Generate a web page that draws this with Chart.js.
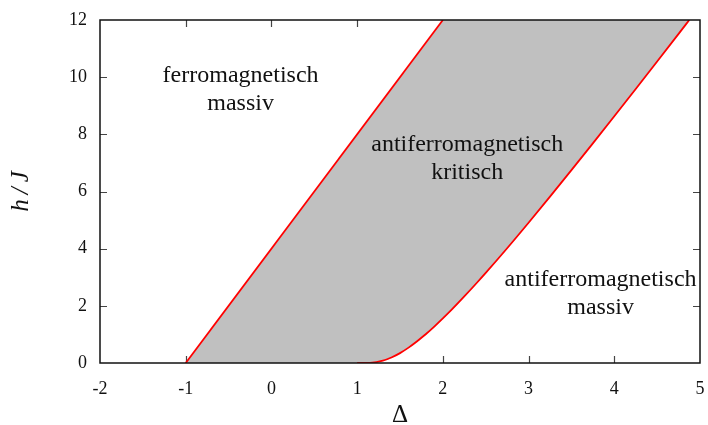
<!DOCTYPE html>
<html>
<head>
<meta charset="utf-8">
<script src="https://cdn.jsdelivr.net/npm/chart.js@4.4.1/dist/chart.umd.min.js"></script>
<style>
  html, body { margin: 0; padding: 0; background: #ffffff; }
  #phase { display: block; }
</style>
</head>
<body>
<canvas id="phase" width="708" height="425"></canvas>
<script>
// Phase boundaries of the XXZ chain in a field (h/J versus anisotropy Δ)

// saturation line: fully polarized above it
const deltaUpper = [-1, 2];
const hUpper = [0, 12];

// lower critical field of the gapped Néel phase (Δ > 1)
const deltaLower = [1.0, 1.1, 1.15, 1.2, 1.25, 1.3, 1.35, 1.4, 1.5, 1.6, 1.7, 1.75, 1.8, 1.9, 2.0,
                    2.1, 2.25, 2.4, 2.5, 2.75, 3.0, 3.25, 3.5, 3.75, 4.0, 4.25, 4.5, 4.75, 4.875];
const hLower = [0, 0.001, 0.006, 0.019, 0.044, 0.081, 0.131, 0.192, 0.346, 0.538, 0.760, 0.881, 1.007, 1.275, 1.559,
                1.856, 2.328, 2.816, 3.151, 4.015, 4.907, 5.819, 6.746, 7.685, 8.633, 9.588, 10.549, 11.514, 12.0];

// axis ticks
const xTickValues = [-2, -1, 0, 1, 2, 3, 4, 5];
const xTickLabels = ['-2', '-1', '0', '1', '2', '3', '4', '5'];
const yTickValues = [0, 2, 4, 6, 8, 10, 12];
const yTickLabels = ['0', '2', '4', '6', '8', '10', '12'];

// phase names, placed at (Δ, h) of each text block centre
const phaseLines = [['ferromagnetisch', 'massiv'], ['antiferromagnetisch', 'kritisch'], ['antiferromagnetisch', 'massiv']];
const phaseDelta = [-0.36, 2.284, 3.84];
const phaseH = [9.57, 7.15, 2.44];

const xMin = -2, xMax = 5, yMin = 0, yMax = 12;

const toPoints = (xs, ys) => xs.map((x, i) => ({ x: x, y: ys[i] }));

const upperLine = toPoints(deltaUpper, hUpper);
const lowerCurve = toPoints(deltaLower, hLower);
// outline of the critical region: top edge follows the saturation line then h = 12
const regionTop = upperLine.concat([{ x: deltaLower[deltaLower.length - 1], y: yMax }]);
// bottom edge: h = 0 up to Δ = 1, then the lower critical field
const regionBottom = [{ x: deltaUpper[0], y: 0 }].concat(lowerCurve);

const SERIF = '"Liberation Serif", "DejaVu Serif", serif';

const frameTicks = {
  id: 'frameTicks',
  beforeDatasetsDraw(chart) {
    const { ctx, chartArea: a, scales } = chart;
    ctx.save();
    ctx.strokeStyle = '#444';
    ctx.lineWidth = 1.2;
    ctx.beginPath();
    xTickValues.forEach(v => {
      const px = Math.round(scales.x.getPixelForValue(v)) + 0.5;
      if (v === xMin || v === xMax) return;
      ctx.moveTo(px, a.bottom); ctx.lineTo(px, a.bottom - 7);
      ctx.moveTo(px, a.top); ctx.lineTo(px, a.top + 7);
    });
    yTickValues.forEach(v => {
      const py = Math.round(scales.y.getPixelForValue(v)) + 0.5;
      if (v === yMin || v === yMax) return;
      ctx.moveTo(a.left, py); ctx.lineTo(a.left + 7, py);
      ctx.moveTo(a.right, py); ctx.lineTo(a.right - 7, py);
    });
    ctx.stroke();
    ctx.restore();
  },
  afterDatasetsDraw(chart) {
    const { ctx, chartArea: a, scales } = chart;
    ctx.save();
    ctx.strokeStyle = '#111';
    ctx.lineWidth = 1.5;
    ctx.strokeRect(a.left, a.top, a.right - a.left, a.bottom - a.top);
    // phase names
    ctx.fillStyle = '#111';
    ctx.font = '24px ' + SERIF;
    ctx.textAlign = 'center';
    ctx.textBaseline = 'middle';
    phaseLines.forEach((lines, i) => {
      const cx = scales.x.getPixelForValue(phaseDelta[i]);
      const cy = scales.y.getPixelForValue(phaseH[i]);
      const lh = 28;
      lines.forEach((t, j) => {
        ctx.fillText(t, cx, cy + (j - (lines.length - 1) / 2) * lh);
      });
    });
    ctx.restore();
  }
};

new Chart(document.getElementById('phase'), {
  type: 'line',
  data: {
    datasets: [
      { data: upperLine, borderColor: '#ff0000', borderWidth: 1.8, pointRadius: 0, fill: false, tension: 0 },
      { data: lowerCurve, borderColor: '#ff0000', borderWidth: 1.8, pointRadius: 0, fill: false, cubicInterpolationMode: 'monotone' },
      { data: regionTop, borderWidth: 0, borderColor: 'rgba(0,0,0,0)', pointRadius: 0, tension: 0,
        backgroundColor: '#c0c0c0', fill: { target: 3 } },
      { data: regionBottom, borderWidth: 0, borderColor: 'rgba(0,0,0,0)', pointRadius: 0, fill: false, cubicInterpolationMode: 'monotone' }
    ]
  },
  options: {
    responsive: false,
    animation: false,
    devicePixelRatio: 1,
    layout: { padding: { top: 20, right: 8, left: 0, bottom: 0 } },
    plugins: { legend: { display: false }, tooltip: { enabled: false } },
    scales: {
      x: {
        type: 'linear', min: xMin, max: xMax,
        afterBuildTicks: s => { s.ticks = xTickValues.map(v => ({ value: v })); },
        afterFit: s => { s.height = 62; s.paddingLeft = 0; s.paddingRight = 0; },
        grid: { display: false, drawTicks: false },
        border: { display: false },
        ticks: {
          padding: 15, color: '#111', font: { family: SERIF, size: 18 },
          maxRotation: 0, autoSkip: false,
          callback: v => xTickLabels[xTickValues.indexOf(v)]
        },
        title: { display: true, text: 'Δ', color: '#111', font: { family: SERIF, size: 25 }, padding: { top: 6, bottom: -5 } }
      },
      y: {
        type: 'linear', min: yMin, max: yMax,
        afterBuildTicks: s => { s.ticks = yTickValues.map(v => ({ value: v })); },
        afterFit: s => { s.width = 100; s.paddingTop = 0; s.paddingBottom = 0; },
        grid: { display: false, drawTicks: false },
        border: { display: false },
        ticks: {
          padding: 13, color: '#111', font: { family: SERIF, size: 18 },
          autoSkip: false,
          callback: v => yTickLabels[yTickValues.indexOf(v)]
        },
        title: { display: true, text: 'h\u2009/\u2009J', color: '#111', font: { family: SERIF, size: 25, style: 'italic' }, padding: { top: 6, bottom: 0 } }
      }
    }
  },
  plugins: [frameTicks]
});
</script>
</body>
</html>
